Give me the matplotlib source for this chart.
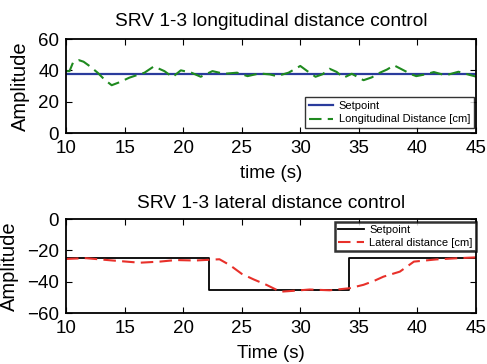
import matplotlib
matplotlib.use("Agg")
import matplotlib.pyplot as plt

plt.rcParams['font.family'] = ['Liberation Sans', 'DejaVu Sans']

# top panel: longitudinal distance
lon_setpoint = 37.5
lon_t = [10, 10.3, 10.6, 11.1, 11.5, 12.0, 12.7, 13.3, 13.9, 14.6, 15.4, 16.0, 16.7,
         17.5, 18.4, 19.1, 19.8, 20.7, 21.5, 22.5, 23.5, 24.6, 25.5, 26.5, 27.4,
         28.0, 29.0, 30.0, 30.6, 31.3, 31.9, 32.5, 33.1, 33.7, 34.4, 35.4, 36.1,
         36.8, 37.4, 38.0, 38.7, 39.5, 39.9, 40.6, 41.4, 42.4, 43.5, 44.5, 45.0]
lon_d = [39.5, 39.5, 45, 46.5, 45.5, 42.8, 38.5, 34, 30.5, 32.5, 35.3, 36.8, 38.5,
         42.5, 39.5, 35.7, 40, 38.5, 35.9, 39.5, 37.8, 38.5, 36.3, 38, 37.4,
         36.3, 38.5, 42.8, 39.5, 35.9, 37.5, 41, 39, 35.3, 37.8, 33.7, 35.5,
         38.5, 40.5, 43.2, 40.5, 37.4, 36.3, 37.3, 38.9, 36.8, 39.1, 37, 36]

# bottom panel: lateral distance
lat_sp_t = [10, 22.25, 22.25, 34.2, 34.2, 45]
lat_sp = [-25, -25, -45, -45, -25, -25]
lat_t = [10, 11.7, 14, 16.3, 18, 19.4, 21, 23.1, 24, 25, 26, 27.1, 28.3, 29.5, 30.8,
         32.5, 34.2, 35.4, 36.3, 37.1, 38.5, 39.7, 41.6, 43.5, 45]
lat_d = [-25.5, -25, -26.5, -27.9, -27.2, -26.2, -26.5, -25.7, -29.5, -35, -38.5, -42,
         -46.4, -45.8, -45, -45.5, -44.2, -42, -39.5, -36.8, -33.6, -27.2, -25.8,
         -25, -24.5]

fig = plt.figure(figsize=(4.87, 3.64), dpi=100)
ax1 = fig.add_axes([66 / 487, 1 - 133 / 364, 410 / 487, 94 / 364])
ax2 = fig.add_axes([66 / 487, 1 - 313 / 364, 410 / 487, 94 / 364])

ax1.plot([10, 45], [lon_setpoint, lon_setpoint], color='#2a3b9c', lw=1.6, label='Setpoint')
ax1.plot(lon_t, lon_d, color='#1f8a1f', lw=1.5, ls=(0, (6, 3)), label='Longitudinal Distance [cm]')
ax1.set_xlim(10, 45)
ax1.set_ylim(0, 60)
ax1.set_yticks([0, 20, 40, 60])
ax1.set_title('SRV 1-3 longitudinal distance control', fontsize=13.8, pad=9)
ax1.set_xlabel('time (s)', fontsize=13.5, labelpad=6)
ax1.set_ylabel('Amplitude', fontsize=14.5, labelpad=6)
ax1.legend(loc='lower right', bbox_to_anchor=(0.995, 0.05), fontsize=8, frameon=True,
           fancybox=False, edgecolor='black', borderaxespad=0, handlelength=2.2,
           labelspacing=0.3, borderpad=0.35, handletextpad=0.5).get_frame().set_linewidth(1.0)

ax2.plot(lat_sp_t, lat_sp, color='black', lw=1.3, label='Setpoint')
ax2.plot(lat_t, lat_d, color='#e8302a', lw=1.5, ls=(0, (6, 3)), label='Lateral distance [cm]')
ax2.set_xlim(10, 45)
ax2.set_ylim(-60, 0)
ax2.set_yticks([-60, -40, -20, 0])
ax2.set_title('SRV 1-3 lateral distance control', fontsize=13.8, pad=8)
ax2.set_xlabel('Time (s)', fontsize=13.5, labelpad=6)
ax2.set_ylabel('Amplitude', fontsize=14.5, labelpad=6)
ax2.legend(loc='upper right', bbox_to_anchor=(1.0, 0.97), fontsize=8, frameon=True,
           fancybox=False, edgecolor='black', borderaxespad=0, handlelength=2.3,
           labelspacing=0.25, borderpad=0.3, handletextpad=0.5).get_frame().set_linewidth(1.8)

for ax in (ax1, ax2):
    ax.tick_params(labelsize=13.5, direction='in', length=4, top=True, right=True, pad=5)
    for s in ax.spines.values():
        s.set_linewidth(1.3)

fig.savefig('out.png', dpi=100)
